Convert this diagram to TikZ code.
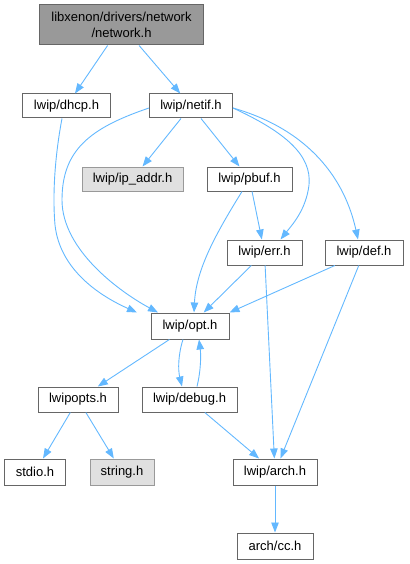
\documentclass[tikz,border=0pt]{standalone}
\usepackage{fontspec}
\setmainfont{Liberation Sans}
\usetikzlibrary{arrows.meta}
\definecolor{edgecol}{HTML}{63B8FF}
\definecolor{bordercol}{HTML}{666666}
\definecolor{rootfill}{HTML}{999999}
\definecolor{extfill}{HTML}{E0E0E0}
\definecolor{extborder}{HTML}{999999}
\tikzset{
  filebox/.style={draw=bordercol, fill=white, line width=1bp, inner sep=0pt, align=center,
     font=\fontsize{13bp}{15.5bp}\selectfont},
  rootbox/.style={filebox, fill=rootfill},
  extbox/.style={filebox, fill=extfill, draw=extborder},
  edge/.style={draw=edgecol, line width=0.9bp, -{Triangle[length=10bp,width=7.5bp]}},
}
\begin{document}
\begin{tikzpicture}[x=1bp,y=-1bp]
\useasboundingbox (0,0) rectangle (409,564);
\node[rootbox, minimum width=163bp, minimum height=40bp] (root) at (121.5,25) {libxenon/drivers/network\\/network.h};
\node[filebox, minimum width=87bp, minimum height=24bp] (dhcp) at (66.5,106) {lwip/dhcp.h};
\node[filebox, minimum width=83bp, minimum height=24bp] (netif) at (191,106) {lwip/netif.h};
\node[extbox, minimum width=101bp, minimum height=24bp] (ipaddr) at (132.5,179) {lwip/ip\_addr.h};
\node[filebox, minimum width=85bp, minimum height=24bp] (pbuf) at (249.5,179) {lwip/pbuf.h};
\node[filebox, minimum width=75bp, minimum height=25bp] (err) at (264.5,252.5) {lwip/err.h};
\node[filebox, minimum width=78bp, minimum height=25bp] (def) at (364,252.5) {lwip/def.h};
\node[filebox, minimum width=78bp, minimum height=26bp] (opt) at (190,326) {lwip/opt.h};
\node[filebox, minimum width=80bp, minimum height=25bp] (lwipopts) at (78,399.5) {lwipopts.h};
\node[filebox, minimum width=95bp, minimum height=25bp] (debug) at (189.5,399.5) {lwip/debug.h};
\node[filebox, minimum width=60bp, minimum height=26bp] (stdio) at (35,472) {stdio.h};
\node[extbox, minimum width=64bp, minimum height=26bp] (string) at (122,472) {string.h};
\node[filebox, minimum width=84bp, minimum height=26bp] (arch) at (275,472) {lwip/arch.h};
\node[filebox, minimum width=76bp, minimum height=26bp] (cc) at (275,546) {arch/cc.h};

\draw[edge] (root) -- (dhcp);
\draw[edge] (root) -- (netif);
\draw[edge] ([xshift=-4.5bp]dhcp.south) .. controls (56,150) and (52,190) .. (55,225)
   .. controls (60,270) and (100,296) .. ([xshift=-53bp]opt.north);
\draw[edge] ([yshift=-2bp]netif.west) .. controls (90,128) and (62,150) .. (62,200)
   .. controls (62,250) and (120,292) .. ([xshift=-32bp]opt.north);
\draw[edge] (netif) -- (ipaddr);
\draw[edge] (netif) -- (pbuf);
\draw[edge] ([yshift=-2bp]netif.east) .. controls (285,132) and (312,155) .. (309,185)
   .. controls (306,210) and (292,225) .. ([xshift=16bp]err.north);
\draw[edge] ([yshift=-2bp]netif.east) .. controls (310,130) and (345,180) .. ([xshift=-6bp]def.north);
\draw[edge] ([xshift=-7.5bp]pbuf.south) .. controls (215,235) and (196,270) .. ([xshift=4bp]opt.north);
\draw[edge] (pbuf) -- (err);
\draw[edge] (err) -- (opt);
\draw[edge] (def) -- (opt.north east);
\draw[edge] (err) -- (arch);
\draw[edge] (def) -- (arch);
\draw[edge] (opt) -- (lwipopts);
\draw[edge] ([xshift=-7bp]opt.south) .. controls (178,355) and (178,370) .. ([xshift=-7.5bp]debug.north);
\draw[edge] ([xshift=7.5bp]debug.north) .. controls (201,370) and (201,355) .. ([xshift=9bp]opt.south);
\draw[edge] (debug) -- (arch);
\draw[edge] (lwipopts) -- (stdio);
\draw[edge] (lwipopts) -- (string);
\draw[edge] (arch) -- (cc);
\end{tikzpicture}
\end{document}
